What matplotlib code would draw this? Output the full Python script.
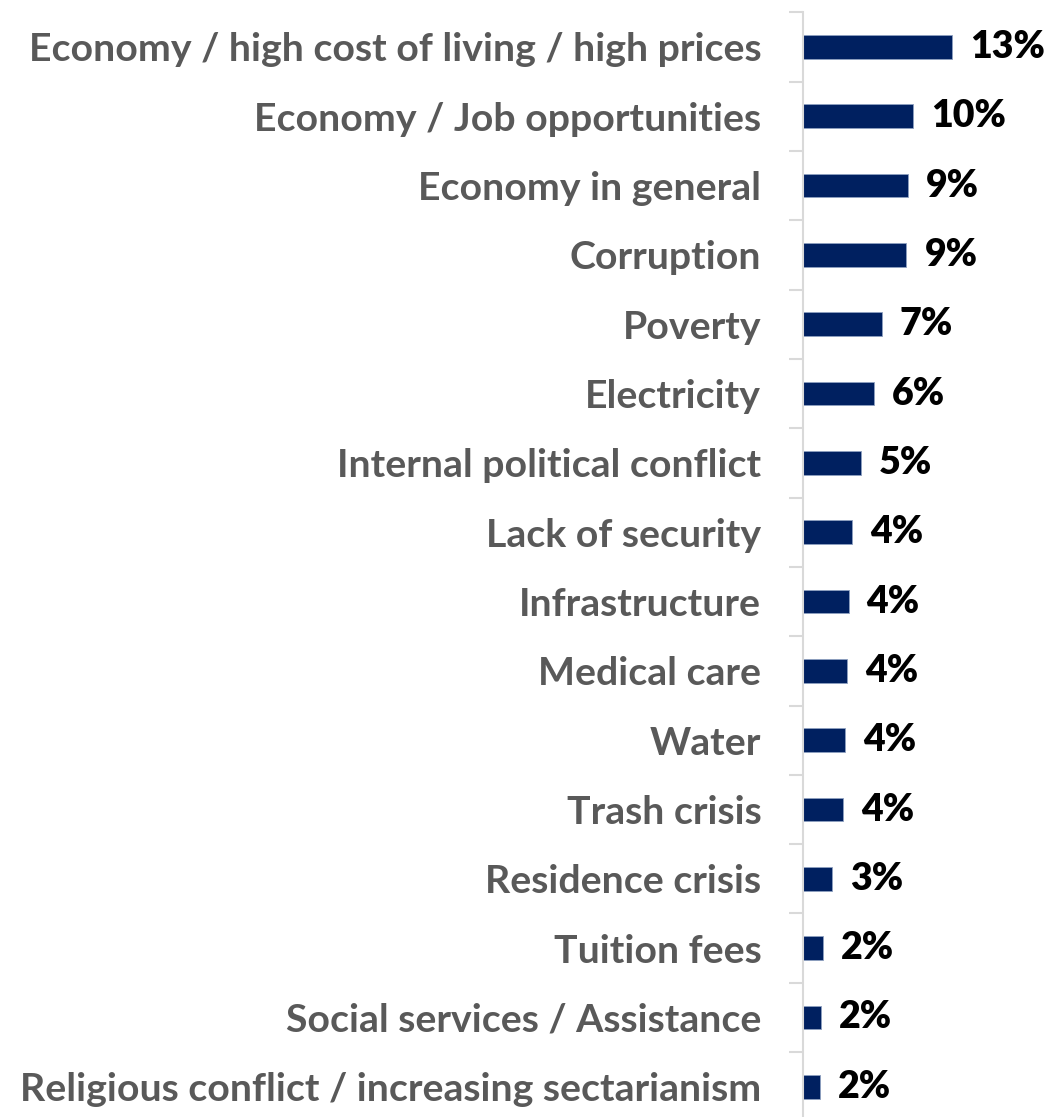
import matplotlib.pyplot as plt
import numpy as np

# Most important problems facing the country (% of respondents)
categories = [
    'Economy / high cost of living / high prices',
    'Economy / Job opportunities',
    'Economy in general',
    'Corruption',
    'Poverty',
    'Electricity',
    'Internal political conflict',
    'Lack of security',
    'Infrastructure',
    'Medical care',
    'Water',
    'Trash crisis',
    'Residence crisis',
    'Tuition fees',
    'Social services / Assistance',
    'Religious conflict / increasing sectarianism',
]
shares = [13.4, 9.9, 9.4, 9.3, 7.1, 6.4, 5.2, 4.4, 4.1, 4.0, 3.8, 3.6, 2.6, 1.8, 1.6, 1.5]

bar_color = '#002060'
label_color = '#595959'
axis_color = '#d9d9d9'
font = 'Lato'

fig = plt.figure(figsize=(10.51, 11.17), dpi=100)
ax = fig.add_axes([0.764, -0.004, 0.236, 0.993])

y = np.arange(len(categories))
ax.barh(y, shares, height=0.34, color=bar_color, edgecolor='#8ea0c0', linewidth=0.6)
ax.set_ylim(len(categories) - 0.5, -0.5)
ax.set_xlim(0, 22.3)

for yi, v in zip(y, shares):
    ax.annotate(f'{v:.0f}%', (v, yi), xytext=(13, 0), textcoords='offset points',
                va='center', ha='left', fontsize=27, fontweight='heavy',
                family=font, color='black')

ax.set_yticks(y)
ax.set_yticklabels(categories, fontsize=28.3, fontweight='bold', family=font, color=label_color)
ax.set_yticks(np.arange(len(categories) + 1) - 0.5, minor=True)
ax.tick_params(axis='y', which='major', length=0, pad=30)
ax.tick_params(axis='y', which='minor', length=10, width=1.5, color=axis_color)
ax.set_xticks([])

for side in ['top', 'right', 'bottom']:
    ax.spines[side].set_visible(False)
ax.spines['left'].set_color(axis_color)
ax.spines['left'].set_linewidth(1.5)

fig.savefig('out.png', dpi=100)
